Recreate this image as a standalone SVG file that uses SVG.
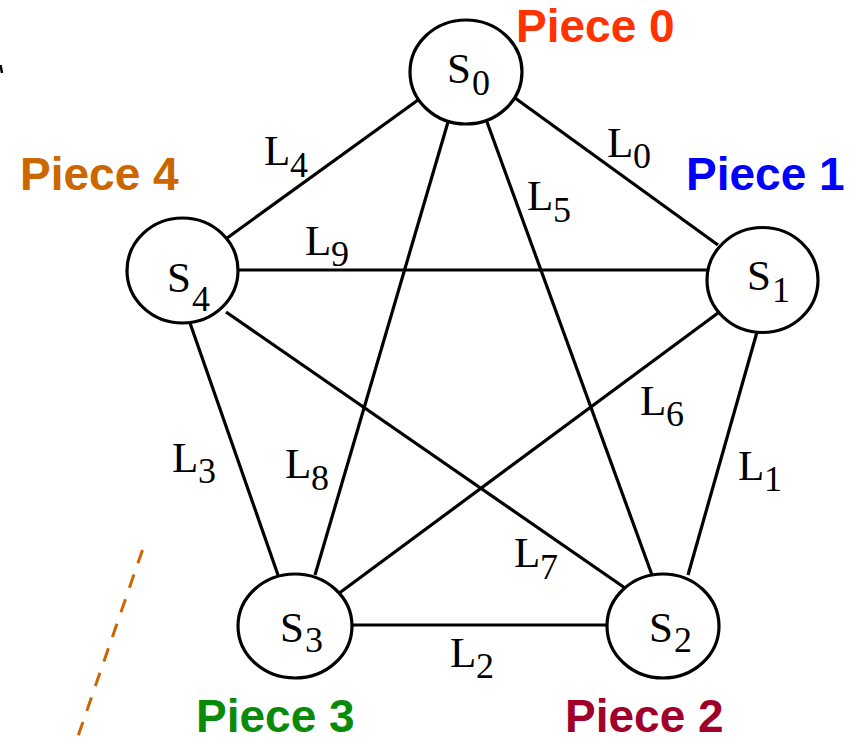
<svg xmlns="http://www.w3.org/2000/svg" width="856" height="742" viewBox="0 0 856 742">
<style>
.node ellipse{fill:#fff;stroke:#000;stroke-width:3.2}
.edges line{stroke:#000;stroke-width:3.2;stroke-linecap:butt}
.t{font-family:"Liberation Serif","Times New Roman",serif;fill:#000}
.big{font-size:43px}
.sub{font-size:36px}
.pc{font-family:"Liberation Sans",Arial,sans-serif;font-weight:bold;font-size:46px}
</style>
<rect width="856" height="742" fill="#fff"/>
<line x1="0.5" y1="65" x2="2" y2="73" stroke="#000" stroke-width="2.5"/>
<line x1="142.5" y1="550" x2="76" y2="742" stroke="#cc6600" stroke-width="3" stroke-dasharray="14 12"/>
<g id="connectors" class="edges">
<line x1="515" y1="98" x2="718" y2="245"/>
<line x1="418" y1="100" x2="223" y2="241"/>
<line x1="487" y1="122" x2="652" y2="575"/>
<line x1="448" y1="122" x2="315" y2="575"/>
<line x1="757" y1="332" x2="688" y2="575"/>
<line x1="190" y1="323" x2="278" y2="575"/>
<line x1="238" y1="270" x2="707" y2="270"/>
<line x1="718" y1="313" x2="338" y2="594"/>
<line x1="226" y1="312" x2="625" y2="588"/>
<line x1="352" y1="625" x2="607" y2="625"/>
</g>
<g id="edge-labels" class="t">
<text x="607" y="157" class="big">L</text><text x="633" y="168" class="sub">0</text>
<text x="738" y="480" class="big">L</text><text x="764" y="491" class="sub">1</text>
<text x="450" y="667" class="big">L</text><text x="476" y="678" class="sub">2</text>
<text x="172" y="472" class="big">L</text><text x="198" y="483" class="sub">3</text>
<text x="264" y="165" class="big">L</text><text x="290" y="177" class="sub">4</text>
<text x="527" y="210" class="big">L</text><text x="553" y="222" class="sub">5</text>
<text x="640" y="415" class="big">L</text><text x="666" y="426" class="sub">6</text>
<text x="514" y="567" class="big">L</text><text x="540" y="579" class="sub">7</text>
<text x="285" y="478" class="big">L</text><text x="311" y="490" class="sub">8</text>
<text x="305" y="255" class="big">L</text><text x="331" y="266" class="sub">9</text>
</g>
<g id="S0" class="node"><ellipse cx="466" cy="72" rx="56" ry="52"/><text class="t big" x="447" y="83">S</text><text class="t sub" x="472" y="95">0</text></g>
<g id="S1" class="node"><ellipse cx="762.5" cy="280" rx="55.5" ry="52.5"/><text class="t big" x="747" y="290">S</text><text class="t sub" x="772" y="302">1</text></g>
<g id="S2" class="node"><ellipse cx="663" cy="626" rx="56" ry="52"/><text class="t big" x="649" y="642">S</text><text class="t sub" x="674" y="652">2</text></g>
<g id="S3" class="node"><ellipse cx="295" cy="626" rx="57" ry="52"/><text class="t big" x="280" y="642">S</text><text class="t sub" x="305" y="652">3</text></g>
<g id="S4" class="node"><ellipse cx="182.5" cy="270.5" rx="55.5" ry="52.5"/><text class="t big" x="167" y="292">S</text><text class="t sub" x="192" y="311">4</text></g>
<g id="pieces" class="pc">
<text x="516" y="42" fill="#ff3300">Piece 0</text>
<text x="686" y="190" fill="#0000ff">Piece 1</text>
<text x="565" y="732" fill="#a0002a">Piece 2</text>
<text x="196" y="732" fill="#0a8a0a">Piece 3</text>
<text x="20" y="190" fill="#cc6600">Piece 4</text>
</g>
</svg>
